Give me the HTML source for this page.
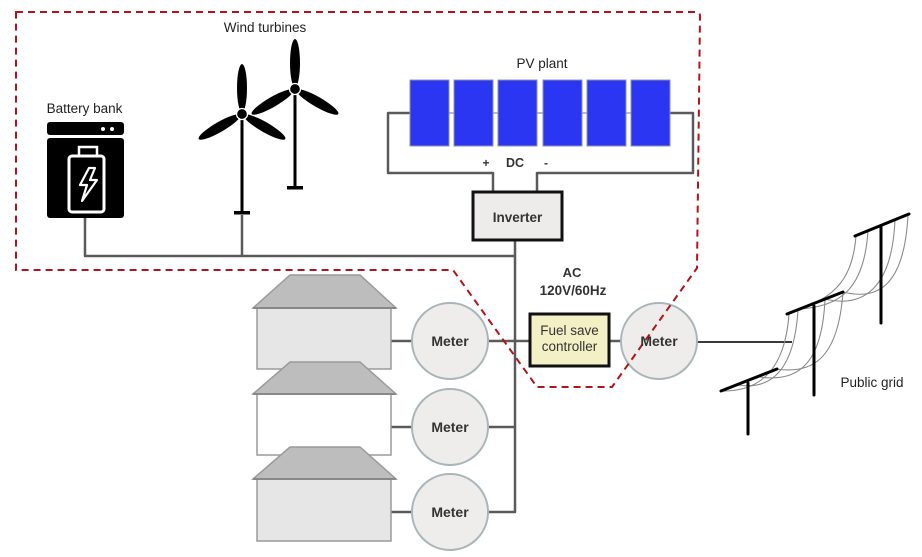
<!DOCTYPE html>
<html><head><meta charset="utf-8"><style>
html,body{margin:0;padding:0;background:#fff;}
svg{display:block;}
.s{font-family:"Liberation Sans",Arial,sans-serif;}
</style></head><body>
<svg width="922" height="557" viewBox="0 0 922 557" xmlns="http://www.w3.org/2000/svg">
<rect width="922" height="557" fill="#fff"/>

<!-- main wiring -->
<g fill="none" stroke="#5a5a5a" stroke-width="2.5" stroke-linejoin="round">
  <path d="M85,218 V256 H515"/>
  <path d="M242,215 V256"/>
  <path d="M515,240 V512 H488"/>
  <path d="M410,113 H388 V173 H493 V192"/>
  <path d="M670,113 H693 V173 H537 V192"/>
  <path d="M391,341 H412 M488,341 H530 M609,341 H622"/>
  <path d="M391,427 H412 M488,427 H515"/>
  <path d="M391,512 H412"/>
</g>
<path d="M697,342 H792" stroke="#3a3a3a" stroke-width="2" fill="none"/>

<!-- battery -->
<rect x="47" y="122" width="77" height="13" rx="3" fill="#000"/>
<circle cx="103" cy="129" r="2" fill="#fff"/>
<circle cx="112" cy="129" r="2" fill="#fff"/>
<rect x="47" y="138" width="77" height="80" rx="3" fill="#000"/>
<rect x="69" y="156" width="35" height="56" rx="3" fill="none" stroke="#fff" stroke-width="3"/>
<rect x="79" y="147" width="18" height="9" fill="none" stroke="#fff" stroke-width="2.5"/>
<path d="M89,168 L80,185 L87,185 L82,201 L97,180 L90,180 L95,168 Z" fill="none" stroke="#fff" stroke-width="2.2" stroke-linejoin="round"/>

<!-- wind turbines -->
<g fill="#000">
  <rect x="240.5" y="114" width="3" height="98"/>
  <rect x="234" y="211" width="16" height="3.5"/>
  <ellipse cx="242" cy="88" rx="5" ry="24"/>
  <ellipse cx="219.5" cy="127" rx="24" ry="5" transform="rotate(-30 219.5 127)"/>
  <ellipse cx="264.5" cy="127" rx="24" ry="5" transform="rotate(30 264.5 127)"/>
  <circle cx="242" cy="114" r="5.5" stroke="#fff" stroke-width="1.3"/>

  <rect x="293.5" y="89" width="3" height="98"/>
  <rect x="287" y="186" width="16" height="3.5"/>
  <ellipse cx="295" cy="63" rx="5" ry="24"/>
  <ellipse cx="272.5" cy="102" rx="24" ry="5" transform="rotate(-30 272.5 102)"/>
  <ellipse cx="317.5" cy="102" rx="24" ry="5" transform="rotate(30 317.5 102)"/>
  <circle cx="295" cy="89" r="5.5" stroke="#fff" stroke-width="1.3"/>
</g>

<!-- PV panels -->
<g stroke="#8f93a8" stroke-width="1">
  <path d="M449,113 H454 M493,113 H498 M537,113 H543 M582,113 H587 M626,113 H631" stroke="#777"/>
  <rect x="410" y="80" width="39" height="66" fill="#2b36f2"/>
  <rect x="454" y="80" width="39" height="66" fill="#2b36f2"/>
  <rect x="498" y="80" width="39" height="66" fill="#2b36f2"/>
  <rect x="543" y="80" width="39" height="66" fill="#2b36f2"/>
  <rect x="587" y="80" width="39" height="66" fill="#2b36f2"/>
  <rect x="631" y="80" width="39" height="66" fill="#2b36f2"/>
</g>

<!-- inverter -->
<rect x="473" y="192" width="89" height="48" fill="#eeeceb" stroke="#111" stroke-width="3"/>

<!-- houses -->
<g stroke="#9a9a9a" stroke-width="1.5">
  <rect x="257" y="308" width="134" height="61" fill="#e6e6e6"/>
  <polygon points="253,308 290,275 360,275 396,308" fill="#bdbdbd"/>
  <path d="M253,308 H396" stroke="#888" stroke-width="2"/>
  <rect x="257" y="394" width="134" height="61" fill="#fff"/>
  <polygon points="253,394 290,362 360,362 396,394" fill="#bdbdbd"/>
  <path d="M253,394 H396" stroke="#888" stroke-width="2"/>
  <rect x="257" y="479" width="134" height="62" fill="#e6e6e6"/>
  <polygon points="253,479 290,447 360,447 396,479" fill="#bdbdbd"/>
  <path d="M253,479 H396" stroke="#888" stroke-width="2"/>
</g>

<!-- meters -->
<g fill="#efedec" stroke="#a9b5b9" stroke-width="2">
  <circle cx="450" cy="341" r="38"/>
  <circle cx="450" cy="427" r="38"/>
  <circle cx="450" cy="512" r="38"/>
  <circle cx="659" cy="341" r="38"/>
</g>

<!-- fuel save controller -->
<rect x="530" y="314" width="79" height="52" fill="#f3f0c6" stroke="#111" stroke-width="3"/>

<!-- public grid wires -->
<g fill="none" stroke="#8a8a8a" stroke-width="1.1">
  <path d="M856,236 C852,285 830,300 787,314"/>
  <path d="M868,231 C864,290 840,306 800,309"/>
  <path d="M895,220 C892,290 862,308 825,299"/>
  <path d="M908,215 C904,290 875,300 843,292"/>
  <path d="M789,314 C785,370 760,392 721,391"/>
  <path d="M798,310 C794,372 770,390 738,385"/>
  <path d="M825,299 C822,368 795,382 760,377"/>
  <path d="M843,292 C838,362 810,374 776,369"/>
</g>
<g stroke="#000" stroke-width="3" stroke-linecap="round">
  <path d="M721,391 L777,369"/>
  <path d="M748,383 V434"/>
  <path d="M787,314 L843,292"/>
  <path d="M814,306 V395"/>
  <path d="M855,236 L909,214"/>
  <path d="M881,226 V323"/>
</g>

<!-- dashed boundary -->
<path d="M16,12 H696 Q700,12 700,16 L697,268 L612,387 H537 L453,270 H16 Z" fill="none" stroke="#b5121b" stroke-width="2" stroke-dasharray="7,5"/>

<!-- labels -->
<g class="s" fill="#222" font-size="13.5">
  <text x="265" y="32" text-anchor="middle">Wind turbines</text>
  <text x="84.5" y="113" text-anchor="middle">Battery bank</text>
  <text x="542" y="68" text-anchor="middle">PV plant</text>
  <text x="872" y="387" text-anchor="middle">Public grid</text>
</g>
<g class="s" fill="#333" font-weight="bold">
  <text x="517.5" y="222" text-anchor="middle" font-size="13.5">Inverter</text>
  <text x="486" y="167" text-anchor="middle" font-size="12">+</text>
  <text x="515" y="167" text-anchor="middle" font-size="12.5">DC</text>
  <text x="546" y="167" text-anchor="middle" font-size="12">-</text>
  <text x="572" y="277" text-anchor="middle" font-size="13">AC</text>
  <text x="573" y="295" text-anchor="middle" font-size="13.5">120V/60Hz</text>
  <text x="450" y="346" text-anchor="middle" font-size="14">Meter</text>
  <text x="450" y="432" text-anchor="middle" font-size="14">Meter</text>
  <text x="450" y="517" text-anchor="middle" font-size="14">Meter</text>
  <text x="659" y="346" text-anchor="middle" font-size="14">Meter</text>
</g>
<g class="s" fill="#333" font-size="13.5">
  <text x="569.5" y="335" text-anchor="middle">Fuel save</text>
  <text x="569.5" y="351" text-anchor="middle">controller</text>
</g>
</svg>
</body></html>
